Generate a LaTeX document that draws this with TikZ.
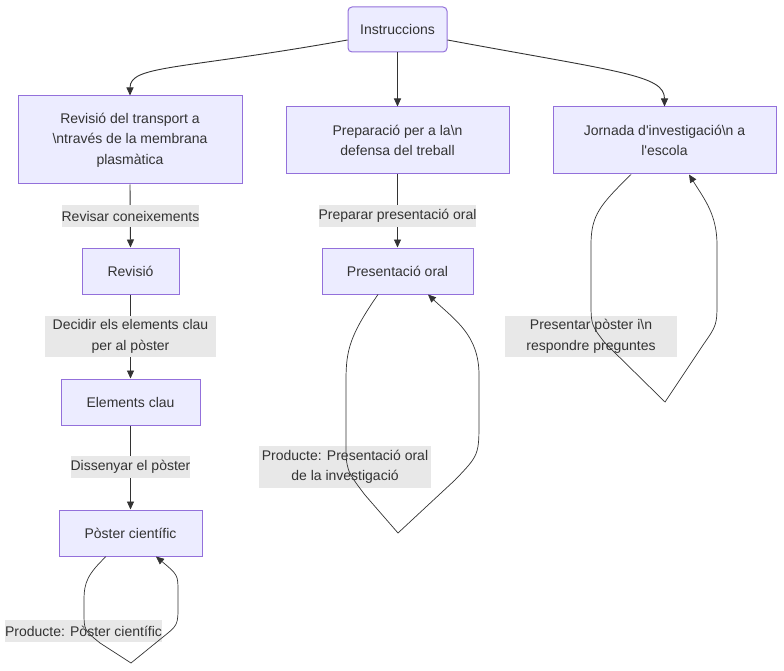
\documentclass[tikz,border=0pt]{standalone}
\usepackage{fontspec}
\setmainfont{Liberation Sans}[Ligatures=TeXOff]
\usetikzlibrary{arrows.meta}
\definecolor{nodefill}{HTML}{ECECFF}
\definecolor{nodeline}{HTML}{9370DB}
\definecolor{txt}{HTML}{333333}
\definecolor{lblbg}{HTML}{E8E8E8}
\begin{document}
\begin{tikzpicture}[x=1pt,y=-1pt,
  every node/.style={font=\fontsize{14}{20.5}\selectfont, text=txt, align=center, inner sep=0pt},
  box/.style={draw=nodeline, fill=nodefill, line width=1pt},
  lbl/.style={fill=lblbg},
  edge/.style={draw=txt, line width=0.9pt, -{Triangle[length=8pt,width=7pt,fill=txt]}},
  loop/.style={draw=txt, line width=0.7pt, -{Triangle[length=8pt,width=7pt,fill=txt]}}
]
\useasboundingbox (0,0) rectangle (784,671);
% nodes
\node[box, rounded corners=4pt, minimum width=99pt, minimum height=45pt] (ins) at (397.5,29.5) {Instruccions};
\node[box, minimum width=224pt, minimum height=88pt] (rt) at (130,140) {Revisió del transport a\\\textbackslash ntravés de la membrana\\plasmàtica};
\node[box, minimum width=223pt, minimum height=67pt] (prep) at (397.5,140.5) {Preparació per a la\textbackslash n\\defensa del treball};
\node[box, minimum width=223pt, minimum height=67pt] (jor) at (664.5,140.5) {Jornada d'investigació\textbackslash n a\\l'escola};
\node[box, minimum width=97pt, minimum height=46pt] (rev) at (130.5,271) {Revisió};
\node[box, minimum width=139pt, minimum height=46pt] (ek) at (130.5,402) {Elements clau};
\node[box, minimum width=143pt, minimum height=46pt] (pc) at (130.5,533) {Pòster científic};
\node[box, minimum width=151pt, minimum height=46pt] (po) at (397.5,271) {Presentació oral};
% straight edges
\draw[edge] (ins.west |- 0,40) .. controls (180,70) and (130,65) .. (rt.north);
\draw[edge] (ins.south) -- (prep.north);
\draw[edge] (ins.east |- 0,40) .. controls (620,72) and (664.5,75) .. (jor.north);
\draw[edge] (rt.south) -- (rev.north);
\draw[edge] (rev.south) -- (ek.north);
\draw[edge] (ek.south) -- (pc.north);
\draw[edge] (prep.south) -- (po.north);
% labels
\node[lbl, minimum width=135pt, minimum height=22pt] (l1) at (130.5,216) {Revisar coneixements};
\node[lbl, minimum width=171pt, minimum height=41pt] (l2) at (130.5,336.5) {Decidir els elements clau\\per al pòster};
\node[lbl, minimum width=119pt, minimum height=22pt] (l3) at (130.5,467) {Dissenyar el pòster};
\node[lbl, minimum width=153pt, minimum height=22pt] (l4) at (83.5,631) {Producte: Pòster científic};
\node[lbl, minimum width=157pt, minimum height=22pt] (l5) at (397.5,216) {Preparar presentació oral};
\node[lbl, minimum width=172pt, minimum height=42pt] (l6) at (345,467) {Producte: Presentació oral\\de la investigació};
\node[lbl, minimum width=172pt, minimum height=41pt] (l7) at (591,336.5) {Presentar pòster i\textbackslash n\\respondre preguntes};
% self loops
\draw[loop] ([xshift=-24.5pt]pc.south) .. controls (88,574) and (84,582) .. (84,600) -- (84,612)
  .. controls (84,630) .. (100,643) -- (131,663) -- (163,637)
  .. controls (178,625) .. (178,605) -- (178,592)
  .. controls (178,575) .. ([xshift=25.5pt]pc.south);
\draw[loop] ([xshift=-19.5pt]po.south) .. controls (350,335) and (346,350) .. (346,380) -- (346,440)
  .. controls (346,470) .. (365,495) -- (398,533) -- (455,480)
  .. controls (479,455) .. (479,420) -- (479,375)
  .. controls (479,335) and (455,320) .. ([xshift=30.5pt]po.south);
\draw[loop] ([xshift=-33.5pt]jor.south) .. controls (600,205) and (591,215) .. (591,245) -- (591,300)
  .. controls (591,325) .. (605,343) -- (665,402) -- (703,345)
  .. controls (717,325) .. (717,300) -- (717,245)
  .. controls (717,215) and (705,200) .. ([xshift=24.5pt]jor.south);
\end{tikzpicture}
\end{document}
